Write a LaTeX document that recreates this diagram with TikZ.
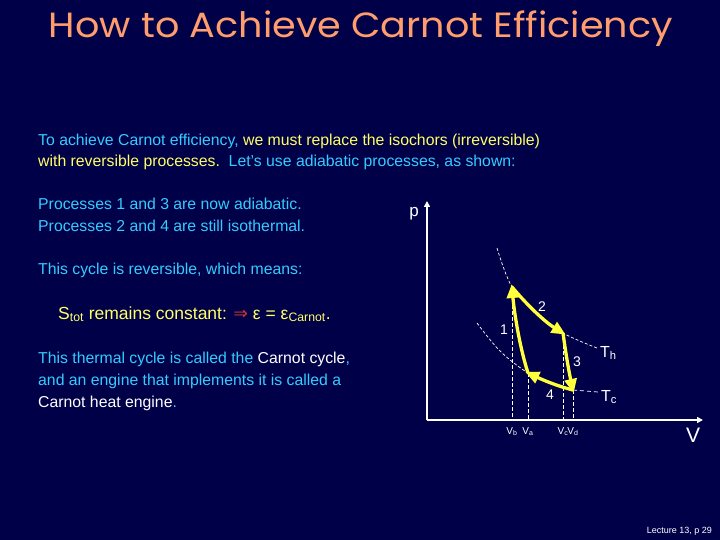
\documentclass[tikz,border=0pt]{standalone}
\usepackage{fontspec}
\setmainfont{Liberation Sans}
\newfontfamily\titlefont{Poppins}
\newfontfamily\symfont{DejaVu Sans}
\usetikzlibrary{arrows.meta}
\definecolor{bg}{RGB}{0,0,72}
\definecolor{cyantext}{RGB}{51,204,255}
\definecolor{yeltext}{RGB}{255,255,102}
\definecolor{orangetitle}{RGB}{255,158,108}
\definecolor{redarrow}{RGB}{204,51,51}
\definecolor{cycleyellow}{RGB}{255,255,60}
\tikzset{
  body/.style={anchor=base west, inner sep=0pt, font=\fontsize{15.8}{19}\selectfont},
  axis/.style={draw=white, line width=2pt, -{Triangle[length=6pt,width=6pt]}},
  proc/.style={draw=cycleyellow, line width=3.3pt, -{Triangle[length=14pt,width=12pt]}, shorten >=-3pt},
  iso/.style={draw=white, line width=0.7pt, dash pattern=on 3pt off 2pt},
  drop/.style={draw=white, line width=0.8pt, dash pattern=on 4pt off 2pt},
  lab/.style={text=white, inner sep=0pt, font=\fontsize{14}{16}\selectfont},
  vlab/.style={text=white, inner sep=0pt, font=\fontsize{10}{11}\selectfont, anchor=base},
}
\begin{document}
\begin{tikzpicture}[x=1pt,y=-1pt]
\fill[bg] (0,0) rectangle (720,540);
\useasboundingbox (0,0) rectangle (720,540);
% title
\node[text=orangetitle, inner sep=0pt, font=\titlefont\fontsize{35}{40}\selectfont, xscale=1.09] (title) at (361,29) {How to Achieve Carnot Efficiency};
% text
\node[body, text=cyantext] (l1) at (38,146) {To achieve Carnot efficiency, \textcolor{yeltext}{we must replace the isochors (irreversible)}};
\node[body, text=yeltext] (l2) at (38,167) {with reversible processes.\ \ \textcolor{cyantext}{Let’s use adiabatic processes, as shown:}};
\node[body, text=cyantext] (l3) at (38,210) {Processes 1 and 3 are now adiabatic.};
\node[body, text=cyantext] (l4) at (38,232) {Processes 2 and 4 are still isothermal.};
\node[body, text=cyantext] (l5) at (38,274) {This cycle is reversible, which means:};
\node[body, text=yeltext, font=\fontsize{17.5}{20}\selectfont] (l6) at (58,319) {S\textsubscript{tot} remains constant: \textcolor{redarrow}{\symfont ⇒} ε = ε\textsubscript{Carnot}.};
\node[body, text=cyantext] (l7) at (38,363) {This thermal cycle is called the \textcolor{white}{Carnot cycle},};
\node[body, text=cyantext] (l8) at (38,385) {and an engine that implements it is called a};
\node[body, text=cyantext] (l9) at (38,407) {\textcolor{white}{Carnot heat engine}.};
% footer
\node[anchor=base east, text=white, inner sep=0pt, font=\fontsize{9}{10}\selectfont] (foot) at (712,533) {Lecture 13, p 29};
% axes
\coordinate (O) at (427,420);
\coordinate (ptop) at (427,201);
\coordinate (vend) at (703,420);
\draw[axis] (O) -- (ptop);
\draw[axis] (O) -- (vend);
\node[lab, anchor=base east, font=\fontsize{17}{18}\selectfont] (plab) at (419,216) {p};
\node[lab, anchor=base, font=\fontsize{21}{22}\selectfont] (Vlab) at (693,442) {V};
% vertices
\coordinate (B) at (512,287);
\coordinate (C) at (563,333);
\coordinate (D) at (573,390);
\coordinate (A) at (528,373);
% isotherms
\draw[iso] plot[smooth, tension=0.6] coordinates {(497,248) (512,287) (537,313) (563,333) (597,348)};
\draw[iso] plot[smooth, tension=0.6] coordinates {(477,323) (500,351) (528,373) (552,384) (573,390)};
\draw[iso, dash pattern=on 4pt off 3pt] (D) -- (598,392);
% drops
\coordinate (Bx) at (512,420);
\coordinate (Ax) at (528,420);
\coordinate (Cx) at (563,420);
\coordinate (Dx) at (573,420);
\draw[drop] (B) -- (Bx);
\draw[drop] (A) -- (Ax);
\draw[drop] (C) -- (Cx);
\draw[drop] (D) -- (Dx);
% cycle
\draw[proc] (A) .. controls (519,345) and (514,310) .. (B);
\draw[proc] (B) .. controls (527,305) and (545,322) .. (C);
\draw[proc] (C) .. controls (566,355) and (569,372) .. (D);
\draw[proc] (D) .. controls (557,386) and (543,380) .. (A);
% labels
\node[lab] (n1) at (504,330) {1};
\node[lab] (n2) at (542,307) {2};
\node[lab] (n3) at (577,362) {3};
\node[lab] (n4) at (550,395) {4};
\node[lab, anchor=west, font=\fontsize{16}{17}\selectfont] (Th) at (600,353) {T\textsubscript{h}};
\node[lab, anchor=west, font=\fontsize{16}{17}\selectfont] (Tc) at (601,397) {T\textsubscript{c}};
\node[vlab] (vb) at (Bx |- 0,434) {V\textsubscript{b}};
\node[vlab] (va) at (Ax |- 0,434) {V\textsubscript{a}};
\node[vlab] (vc) at (Cx |- 0,434) {V\textsubscript{c}};
\node[vlab] (vd) at (Dx |- 0,434) {V\textsubscript{d}};
\end{tikzpicture}
\end{document}
